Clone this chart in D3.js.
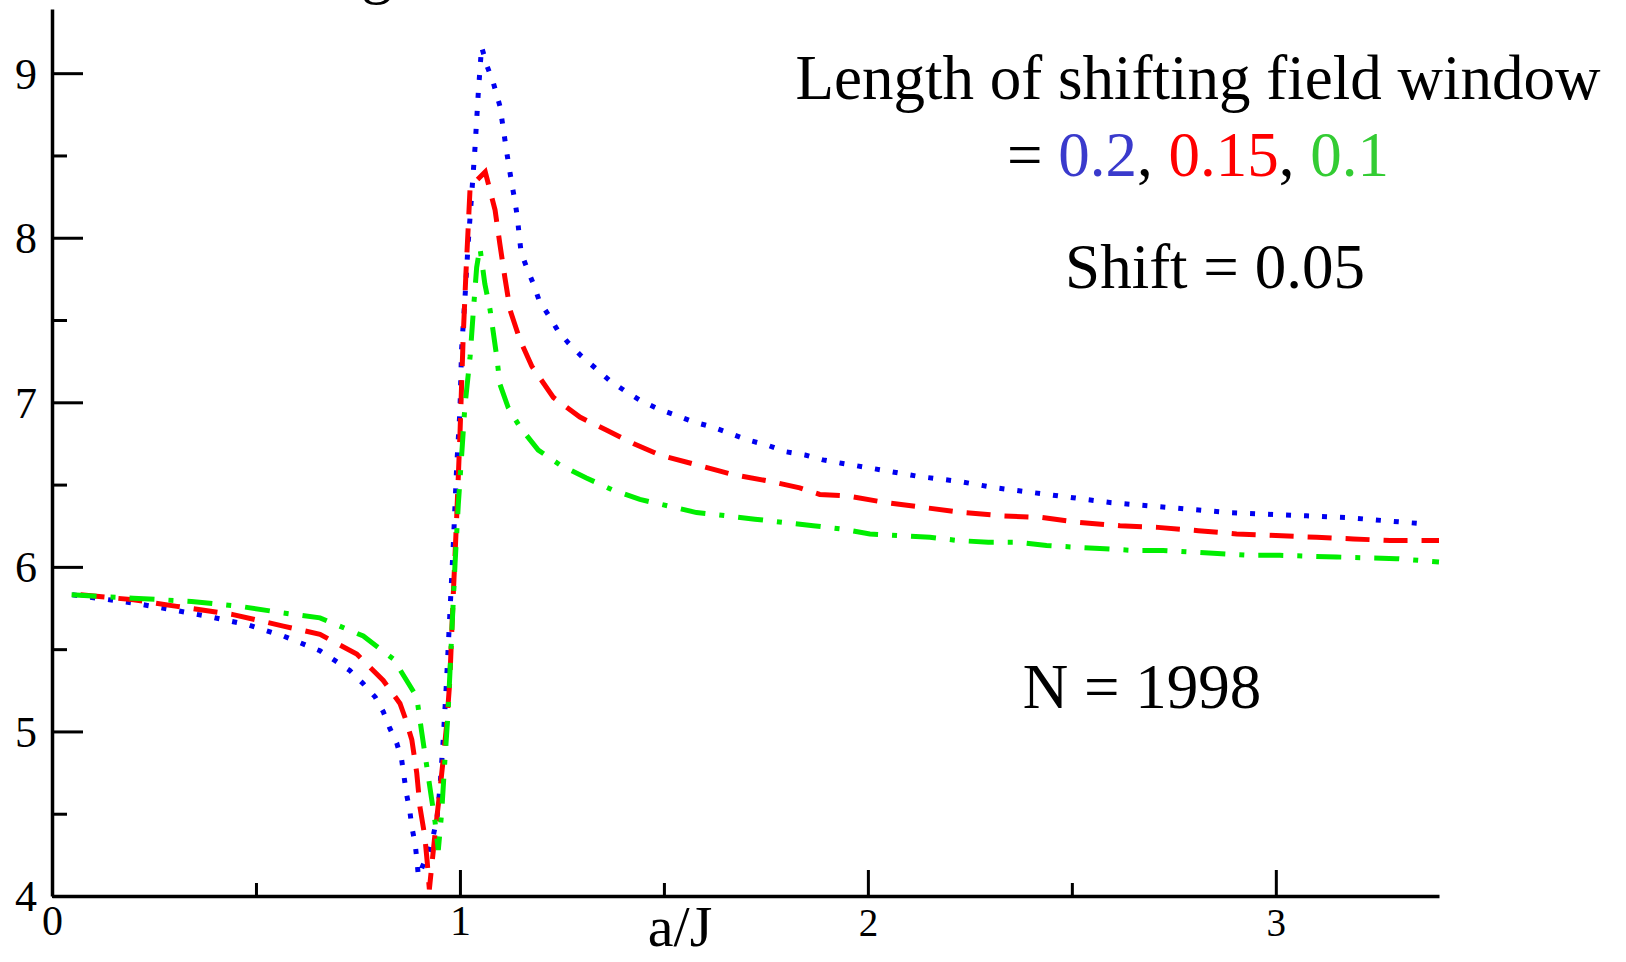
<!DOCTYPE html>
<html>
<head>
<meta charset="utf-8">
<script src="https://cdn.jsdelivr.net/npm/d3@7"></script>
<style>
  body { margin: 0; background: #fff; }
  svg { display: block; }
</style>
</head>
<body>
<div id="chart_div"></div>
<script>
// window length 0.2 (blue, dotted)
const blueX = [0.05, 0.11, 0.2, 0.293, 0.38, 0.477, 0.567, 0.657, 0.694, 0.73, 0.763, 0.792, 0.812, 0.828, 0.845, 0.857, 0.869, 0.877, 0.882, 0.89, 0.895, 0.898,
  0.922, 0.935, 0.944, 0.951, 0.959, 0.967, 0.975, 0.984, 0.992, 1.0, 1.004, 1.012, 1.02, 1.029, 1.037, 1.045, 1.053,
  1.067, 1.082, 1.098, 1.107, 1.114, 1.127, 1.135, 1.141, 1.145, 1.15, 1.165, 1.18, 1.194, 1.217, 1.239, 1.266, 1.298, 1.331, 1.368, 1.404, 1.443,
  1.486, 1.531, 1.574, 1.619, 1.663, 1.707, 1.753, 1.798, 1.846, 1.89, 1.935, 2.03, 2.123, 2.221, 2.315, 2.409, 2.503, 2.597, 2.695, 2.789, 2.887,
  2.981, 3.075, 3.173, 3.27, 3.37];
const blueY = [5.83, 5.81, 5.78, 5.74, 5.70, 5.65, 5.58, 5.49, 5.43, 5.37, 5.29, 5.21, 5.12, 5.02, 4.93, 4.83, 4.62, 4.52, 4.42, 4.32, 4.21, 4.12,
  4.26, 4.37, 4.48, 4.66, 4.95, 5.30, 5.70, 6.15, 6.61, 6.95, 7.32, 7.62, 7.96, 8.27, 8.55, 8.88, 9.16,
  9.04, 8.94, 8.80, 8.65, 8.53, 8.33, 8.22, 8.12, 8.02, 7.91, 7.81, 7.72, 7.62, 7.53, 7.44, 7.36, 7.28, 7.21, 7.13, 7.07, 7.01,
  6.96, 6.92, 6.88, 6.85, 6.81, 6.77, 6.74, 6.70, 6.68, 6.65, 6.63, 6.59, 6.55, 6.52, 6.48, 6.45, 6.42, 6.39, 6.37, 6.35, 6.33,
  6.32, 6.31, 6.30, 6.28, 6.26];

// window length 0.15 (red, dashed)
const redX = [0.07, 0.2, 0.306, 0.444, 0.567, 0.657, 0.747, 0.812, 0.853, 0.866, 0.882, 0.894, 0.902, 0.914, 0.92, 0.925,
  0.939, 0.949, 0.959, 0.967, 0.975, 0.984, 0.992, 1.0, 1.008, 1.015, 1.02, 1.025, 1.062,
  1.086, 1.098, 1.11, 1.123, 1.147, 1.176, 1.229, 1.294, 1.36, 1.425, 1.49, 1.58, 1.67, 1.76, 1.833, 1.882, 1.952, 2.046,
  2.14, 2.234, 2.332, 2.426, 2.52, 2.618, 2.711, 2.81, 2.904, 3.0, 3.1, 3.19, 3.28, 3.4];
const redY = [5.83, 5.80, 5.76, 5.71, 5.64, 5.59, 5.47, 5.31, 5.17, 5.08, 4.95, 4.75, 4.54, 4.36, 4.20, 4.04,
  4.38, 4.60, 4.83, 5.03, 5.30, 5.85, 6.30, 6.80, 7.40, 7.80, 8.05, 8.31, 8.40,
  8.17, 7.96, 7.76, 7.56, 7.38, 7.22, 7.03, 6.91, 6.83, 6.75, 6.68, 6.62, 6.56, 6.52, 6.48, 6.44, 6.43, 6.39,
  6.36, 6.33, 6.31, 6.30, 6.27, 6.25, 6.24, 6.22, 6.20, 6.19, 6.18, 6.17, 6.16, 6.16];

// window length 0.1 (green, dash-dot)
const greenX = [0.048, 0.199, 0.342, 0.461, 0.567, 0.657, 0.763, 0.837, 0.894, 0.906, 0.918, 0.93, 0.939, 0.947,
  0.955, 0.963, 0.971, 0.98, 0.988, 0.996, 1.004, 1.012, 1.025, 1.033, 1.041, 1.049,
  1.061, 1.074, 1.082, 1.09, 1.098, 1.118, 1.147, 1.192, 1.245, 1.31, 1.372, 1.441, 1.511, 1.58, 1.654, 1.723, 1.792,
  1.866, 1.935, 2.005, 2.078, 2.152, 2.221, 2.295, 2.364, 2.438, 2.507, 2.581, 2.65, 2.724, 2.797, 2.867, 2.936, 3.01,
  3.149, 3.296, 3.4];
const greenY = [5.83, 5.81, 5.79, 5.76, 5.72, 5.69, 5.58, 5.44, 5.21, 5.00, 4.80, 4.60, 4.45, 4.28,
  4.50, 4.82, 5.12, 5.60, 6.02, 6.38, 6.67, 6.97, 7.28, 7.56, 7.82, 7.94,
  7.72, 7.56, 7.42, 7.28, 7.11, 6.97, 6.85, 6.71, 6.62, 6.54, 6.47, 6.41, 6.37, 6.33, 6.31, 6.29, 6.27,
  6.25, 6.23, 6.20, 6.19, 6.18, 6.16, 6.15, 6.15, 6.13, 6.12, 6.11, 6.10, 6.10, 6.09, 6.08, 6.07, 6.07,
  6.06, 6.05, 6.03];

const xMajorTicks = [0, 1, 2, 3];
const xMinorTicks = [0.5, 1.5, 2.5];
const yMajorTicks = [4, 5, 6, 7, 8, 9];
const yMinorTicks = [4.5, 5.5, 6.5, 7.5, 8.5];

const serif = "'Liberation Serif', 'Times New Roman', serif";

// set the dimensions and margins of the graph
const margin = {top: 9, right: 187, bottom: 66, left: 52},
    width = 1626 - margin.left - margin.right,
    height = 962 - margin.top - margin.bottom;

const svg = d3.select("#chart_div")
  .append("svg")
    .attr("width", 1626)
    .attr("height", 962)
    .style("font-family", serif)
  .append("g")
    .attr("transform", `translate(${margin.left}, ${margin.top})`);

const x = d3.scaleLinear().domain([0, 3.4]).range([0, width]);
const y = d3.scaleLinear().domain([4, 9.39]).range([height, 0]);

// minor ticks (inward, no labels)
svg.append("g")
  .attr("transform", `translate(0, ${height})`)
  .call(d3.axisBottom(x).tickValues(xMinorTicks).tickSize(-13).tickFormat(""))
  .call(g => g.select(".domain").remove());
svg.append("g")
  .call(d3.axisLeft(y).tickValues(yMinorTicks).tickSize(-15).tickFormat(""))
  .call(g => g.select(".domain").remove());

// X axis
const xAxis = svg.append("g")
  .attr("transform", `translate(0, ${height})`)
  .call(d3.axisBottom(x).tickValues(xMajorTicks).tickSize(-26).tickSizeOuter(0).tickFormat(d3.format("d")));
xAxis.selectAll("text")
  .attr("y", d => d < 2 ? 39 : 40)
  .attr("dy", 0)
  .style("font-size", d => d < 2 ? "42px" : "39px")
  .style("font-family", serif)
  .attr("fill", "#000");

// Y axis
const yAxis = svg.append("g")
  .call(d3.axisLeft(y).tickValues(yMajorTicks).tickSize(-31).tickSizeOuter(0).tickPadding(15).tickFormat(d3.format("d")));
yAxis.selectAll("text")
  .attr("dy", "0.34em")
  .style("font-size", "44px")
  .style("font-family", serif)
  .attr("fill", "#000");

svg.selectAll(".tick line").attr("stroke", "#000").attr("stroke-width", 3);
svg.selectAll(".domain").attr("stroke", "#000").attr("stroke-width", 3.5);

// series lines
const series = [
  {xs: blueX, ys: blueY, color: "#0000f0", dash: "5,13"},
  {xs: redX, ys: redY, color: "#ff0000", dash: "24,14"},
  {xs: greenX, ys: greenY, color: "#00ee00", dash: "25,14,5,14"}
];

const line = d3.line()
  .x(d => x(d[0]))
  .y(d => y(d[1]));

series.forEach(function (s) {
  svg.append("path")
    .datum(s.xs.map((v, i) => [v, s.ys[i]]))
    .attr("fill", "none")
    .attr("stroke", s.color)
    .attr("stroke-width", 5)
    .attr("stroke-dasharray", s.dash)
    .attr("d", line);
});

// axis title
svg.append("text")
  .attr("x", 628)
  .attr("y", 937)
  .attr("text-anchor", "middle")
  .style("font-size", "58px")
  .text("a/J");

// cropped title at the top edge
svg.append("text")
  .attr("x", 325)
  .attr("y", -18)
  .attr("text-anchor", "middle")
  .style("font-size", "63px")
  .text("g");

// annotations
svg.append("text")
  .attr("x", 1146)
  .attr("y", 90)
  .attr("text-anchor", "middle")
  .style("font-size", "63px")
  .text("Length of shifting field window");

const windowLabel = svg.append("text")
  .attr("x", 1146)
  .attr("y", 167)
  .attr("text-anchor", "middle")
  .style("font-size", "63px");
windowLabel.append("tspan").text("= ");
windowLabel.append("tspan").attr("fill", "#3a3acc").text("0.2");
windowLabel.append("tspan").text(", ");
windowLabel.append("tspan").attr("fill", "#ff0000").text("0.15");
windowLabel.append("tspan").text(", ");
windowLabel.append("tspan").attr("fill", "#33cc33").text("0.1");

svg.append("text")
  .attr("x", 1163)
  .attr("y", 279)
  .attr("text-anchor", "middle")
  .style("font-size", "63px")
  .text("Shift = 0.05");

svg.append("text")
  .attr("x", 1090)
  .attr("y", 699)
  .attr("text-anchor", "middle")
  .style("font-size", "63px")
  .text("N = 1998");
</script>
</body>
</html>
